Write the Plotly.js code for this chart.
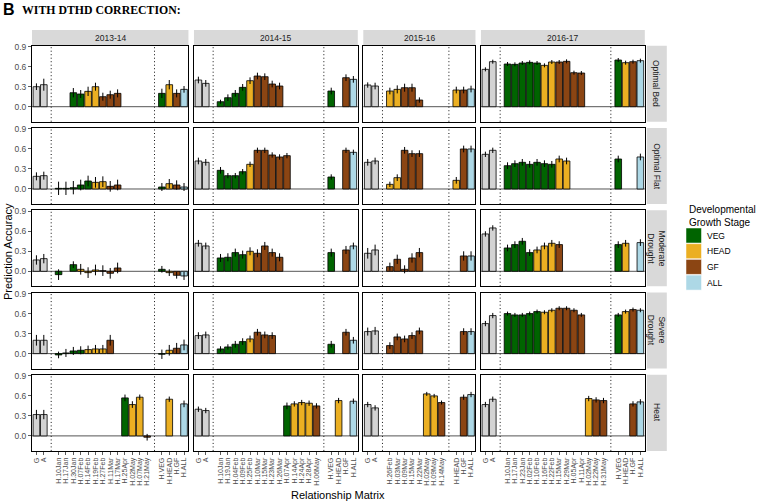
<!DOCTYPE html>
<html>
<head>
<meta charset="utf-8">
<script src="https://cdn.plot.ly/plotly-3.0.1.min.js"></script>
<style>
  body { margin: 0; background: #fff; }
  #chart { width: 757px; height: 503px; }
</style>
</head>
<body>
<div id="chart"></div>
<script>
// facets
const years = ["2013-14", "2014-15", "2015-16", "2016-17"];
const envs = ["Optimal Bed", "Optimal Flat", "Moderate<br>Drought", "Severe<br>Drought", "Heat"];

// x categories of each year column
const dates13 = ["H.10Jan", "H.17Jan", "H.30Jan", "H.07Feb", "H.14Feb", "H.19Feb", "H.27Feb", "H.11Mar", "H.17Mar", "H.25Apr", "H.02May", "H.07May", "H.21May"];
const dates14 = ["H.10Jan", "H.19Jan", "H.04Feb", "H.09Feb", "H.25Feb", "H.10Mar", "H.15Mar", "H.23Mar", "H.26Mar", "H.07Apr", "H.14Apr", "H.24Apr", "H.28Apr", "H.06May"];
const dates15 = ["H.26Feb", "H.03Mar", "H.09Mar", "H.15Mar", "H.22Mar", "H.02May", "H.09May", "H.14May"];
const dates16 = ["H.10Jan", "H.17Jan", "H.23Jan", "H.02Feb", "H.10Feb", "H.16Feb", "H.22Feb", "H.15Mar", "H.29Mar", "H.05Apr", "H.11Apr", "H.02May", "H.22May", "H.31May"];
const summ4 = ["H.VEG", "H.HEAD", "H.GF", "H.ALL"];
const summ3 = ["H.HEAD", "H.GF", "H.ALL"];

// values: G, A, dates..., summary...   (null = no bar)
// stage strings: one char per date, V=VEG H=HEAD F=GF .=none
const bed13 = [0.30, 0.33, null, null, 0.21, 0.19, 0.23, 0.30, 0.15, 0.18, 0.20, null, null, null, null, 0.20, 0.33, 0.20, 0.26];
const bed13e = [0.05, 0.09, 0, 0, 0.07, 0.06, 0.07, 0.06, 0.06, 0.06, 0.06, 0, 0, 0, 0, 0.07, 0.07, 0.06, 0.05];
const bed13s = "..VVHHFFF....";
const bed14 = [0.40, 0.35, 0.075, 0.135, 0.20, 0.29, 0.39, 0.46, 0.45, 0.34, 0.31, null, null, null, null, null, 0.235, null, 0.435, 0.41];
const bed14e = [0.05, 0.05, 0.03, 0.05, 0.05, 0.05, 0.05, 0.05, 0.05, 0.05, 0.05, 0, 0, 0, 0, 0, 0.05, 0, 0.05, 0.05];
const bed14s = "VVVVHFFFF.....";
const bed15 = [0.325, 0.31, 0.235, 0.26, 0.285, 0.285, 0.10, null, null, null, 0.25, 0.25, 0.265];
const bed15e = [0.04, 0.05, 0.05, 0.06, 0.06, 0.06, 0.04, 0, 0, 0, 0.05, 0.05, 0.05];
const bed15s = "HHFFF...";
const bed16 = [0.56, 0.675, 0.64, 0.635, 0.655, 0.665, 0.655, 0.62, 0.67, 0.67, 0.68, 0.51, 0.505, null, null, null, 0.70, 0.66, 0.675, 0.69];
const bed16e = [0.03, 0.03, 0.03, 0.03, 0.03, 0.03, 0.03, 0.03, 0.03, 0.03, 0.03, 0.03, 0.03, 0, 0, 0, 0.03, 0.03, 0.03, 0.03];
const bed16s = "VVVVVHHFFFF...";

const flat13 = [0.19, 0.20, 0.01, 0.01, 0.02, 0.06, 0.12, 0.10, 0.11, 0.04, 0.06, null, null, null, null, 0.03, 0.08, 0.06, 0.03];
const flat13e = [0.06, 0.06, 0.10, 0.10, 0.10, 0.08, 0.08, 0.08, 0.08, 0.08, 0.08, 0, 0, 0, 0, 0.06, 0.07, 0.07, 0.06];
const flat13s = "VVVVVHHFF....";
const flat14 = [0.42, 0.40, 0.28, 0.20, 0.20, 0.26, 0.37, 0.58, 0.58, 0.51, 0.48, 0.50, null, null, null, null, 0.18, null, 0.58, 0.55];
const flat14e = [0.05, 0.05, 0.05, 0.04, 0.04, 0.04, 0.04, 0.04, 0.04, 0.04, 0.04, 0.04, 0, 0, 0, 0, 0.04, 0, 0.04, 0.04];
const flat14s = "VVVVHFFFFF....";
const flat15 = [0.40, 0.42, 0.07, 0.17, 0.58, 0.53, 0.53, null, null, null, 0.13, 0.60, 0.60];
const flat15e = [0.05, 0.05, 0.04, 0.05, 0.05, 0.05, 0.05, 0, 0, 0, 0.05, 0.05, 0.05];
const flat15s = "HHFFF...";
const flat16 = [0.52, 0.58, 0.35, 0.38, 0.40, 0.37, 0.40, 0.38, 0.37, 0.45, 0.42, null, null, null, null, null, 0.45, null, null, 0.48];
const flat16e = [0.04, 0.04, 0.05, 0.05, 0.05, 0.05, 0.05, 0.05, 0.05, 0.05, 0.05, 0, 0, 0, 0, 0, 0.05, 0, 0, 0.05];
const flat16s = "VVVVVVVHH.....";

const mod13 = [0.17, 0.19, -0.05, null, 0.10, 0.03, -0.02, 0.02, 0.01, -0.03, 0.05, null, null, null, null, 0.03, -0.02, -0.06, -0.07];
const mod13e = [0.07, 0.07, 0.08, 0, 0.05, 0.08, 0.08, 0.08, 0.08, 0.08, 0.08, 0, 0, 0, 0, 0.05, 0.05, 0.05, 0.06];
const mod13s = "V.VHHHFFF....";
const mod14 = [0.42, 0.38, 0.20, 0.21, 0.28, 0.25, 0.30, 0.27, 0.38, 0.28, 0.21, null, null, null, null, null, 0.28, null, 0.32, 0.38];
const mod14e = [0.05, 0.05, 0.06, 0.06, 0.06, 0.06, 0.06, 0.06, 0.06, 0.06, 0.06, 0, 0, 0, 0, 0, 0.06, 0, 0.06, 0.05];
const mod14s = "VVVVHFFFF.....";
const mod15 = [0.27, 0.32, 0.07, 0.18, 0.03, 0.20, 0.28, null, null, null, null, 0.23, 0.23];
const mod15e = [0.08, 0.08, 0.06, 0.07, 0.06, 0.07, 0.07, 0, 0, 0, 0, 0.07, 0.07];
const mod15s = "FFFFF...";
const mod16 = [0.56, 0.65, 0.35, 0.40, 0.45, 0.28, 0.32, 0.38, 0.42, 0.40, null, null, null, null, null, null, 0.40, 0.42, null, 0.43];
const mod16e = [0.04, 0.04, 0.05, 0.05, 0.05, 0.05, 0.05, 0.05, 0.05, 0.05, 0, 0, 0, 0, 0, 0, 0.05, 0.05, 0, 0.05];
const mod16s = "VVVVHHHF......";

const sev13 = [0.20, 0.20, -0.02, 0.01, 0.04, 0.05, 0.06, 0.07, 0.07, 0.20, null, null, null, null, null, -0.01, 0.05, 0.08, 0.13];
const sev13e = [0.08, 0.08, 0.05, 0.06, 0.06, 0.06, 0.06, 0.06, 0.06, 0.08, 0, 0, 0, 0, 0, 0.07, 0.08, 0.08, 0.08];
const sev13s = "VVVVHHHF.....";
const sev14 = [0.27, 0.28, 0.07, 0.10, 0.14, 0.18, 0.22, 0.32, 0.28, 0.27, null, null, null, null, null, null, 0.14, null, 0.32, 0.20];
const sev14e = [0.05, 0.05, 0.04, 0.04, 0.05, 0.05, 0.05, 0.05, 0.05, 0.05, 0, 0, 0, 0, 0, 0, 0.05, 0, 0.05, 0.05];
const sev14s = "VVVVHFFF......";
const sev15 = [0.33, 0.34, 0.12, 0.25, 0.22, 0.27, 0.34, null, null, null, null, 0.33, 0.33];
const sev15e = [0.06, 0.06, 0.05, 0.05, 0.05, 0.05, 0.05, 0, 0, 0, 0, 0.05, 0.05];
const sev15s = "FFFFF...";
const sev16 = [0.45, 0.57, 0.60, 0.58, 0.58, 0.60, 0.63, 0.62, 0.65, 0.68, 0.68, 0.65, 0.58, null, null, null, 0.58, 0.63, 0.66, 0.65];
const sev16e = [0.04, 0.04, 0.03, 0.03, 0.03, 0.03, 0.03, 0.03, 0.03, 0.03, 0.03, 0.03, 0.03, 0, 0, 0, 0.03, 0.03, 0.03, 0.03];
const sev16s = "VVVVVHHFFFF...";

const heat13 = [0.32, 0.32, null, null, null, null, null, null, null, null, null, 0.57, 0.47, 0.58, -0.02, null, 0.55, null, 0.48];
const heat13e = [0.07, 0.07, 0, 0, 0, 0, 0, 0, 0, 0, 0, 0.05, 0.05, 0.04, 0.05, 0, 0.04, 0, 0.05];
const heat13s = ".........VHHF";
const heat14 = [0.40, 0.38, null, null, null, null, null, null, null, null, null, 0.45, 0.48, 0.50, 0.49, 0.45, null, 0.53, null, 0.52];
const heat14e = [0.04, 0.04, 0, 0, 0, 0, 0, 0, 0, 0, 0, 0.05, 0.04, 0.04, 0.04, 0.04, 0, 0.04, 0, 0.04];
const heat14s = ".........VHHHF";
const heat15 = [0.47, 0.42, null, null, null, null, null, 0.63, 0.60, 0.50, null, 0.58, 0.62];
const heat15e = [0.04, 0.04, 0, 0, 0, 0, 0, 0.03, 0.03, 0.03, 0, 0.04, 0.04];
const heat15s = ".....HHF";
const heat16 = [0.47, 0.55, null, null, null, null, null, null, null, null, null, null, null, 0.56, 0.54, 0.53, null, null, 0.48, 0.51];
const heat16e = [0.04, 0.04, 0, 0, 0, 0, 0, 0, 0, 0, 0, 0, 0, 0.04, 0.04, 0.04, 0, 0, 0.04, 0.04];
const heat16s = "...........HFF";

const colDates = [dates13, dates14, dates15, dates16];
const colSumm = [summ4, summ4, summ3, summ4];
const vals = [[bed13, bed14, bed15, bed16], [flat13, flat14, flat15, flat16], [mod13, mod14, mod15, mod16], [sev13, sev14, sev15, sev16], [heat13, heat14, heat15, heat16]];
const errs = [[bed13e, bed14e, bed15e, bed16e], [flat13e, flat14e, flat15e, flat16e], [mod13e, mod14e, mod15e, mod16e], [sev13e, sev14e, sev15e, sev16e], [heat13e, heat14e, heat15e, heat16e]];
const stages = [[bed13s, bed14s, bed15s, bed16s], [flat13s, flat14s, flat15s, flat16s], [mod13s, mod14s, mod15s, mod16s], [sev13s, sev14s, sev15s, sev16s], [heat13s, heat14s, heat15s, heat16s]];

const stageCol = { g: "#D3D3D3", V: "#006400", H: "#EBAF22", F: "#8B4513", A: "#ADD8E6" };
const summStage = { "H.VEG": "V", "H.HEAD": "H", "H.GF": "F", "H.ALL": "A" };
const legendKeys = [["V", "VEG"], ["H", "HEAD"], ["F", "GF"], ["A", "ALL"]];

// geometry (px)
const W = 757, H = 503;
const FONT = "Liberation Sans, Arial, sans-serif";
const unit = 7.38, gapX = 5.5, left0 = 32;
const yMin = -0.225, yMax = 0.915;
const zero0 = 106.7, rowStep = 82.3, pxPerVal = 66.7;
const fx = v => v / W, fy = v => 1 - v / H;

// paper-anchored text helper (explicit anchors, 'auto' shifts them)
function label(text, xpx, ypx, opts) {
    return Object.assign({ xref: "paper", yref: "paper", x: fx(xpx), y: fy(ypx), text: text,
        showarrow: false, xanchor: "center", yanchor: "middle" }, opts);
}

function draw() {
    var traces = [];
    var layout = {
        width: W, height: H,
        margin: { l: 0, r: 0, t: 0, b: 0 },
        paper_bgcolor: "#fff", plot_bgcolor: "#fff",
        showlegend: false,
        font: { family: FONT, color: "#4D4D4D" },
        shapes: [], annotations: []
    };

    // column extents
    var colLeft = [], colW = [], colN = [];
    var cx = left0;
    for (var c = 0; c < 4; c++) {
        var n = 2 + 1 + colDates[c].length + 1 + colSumm[c].length;
        colN.push(n);
        colLeft.push(cx);
        colW.push((n + 0.2) * unit);
        cx += (n + 0.2) * unit + gapX;
    }
    var rightEdge = colLeft[3] + colW[3];

    for (var r = 0; r < 5; r++) {
        var zeroPx = zero0 + rowStep * r;
        var pTop = zeroPx - yMax * pxPerVal, pBot = zeroPx - yMin * pxPerVal;
        for (var c = 0; c < 4; c++) {
            var k = r * 4 + c + 1;
            var id = k === 1 ? "" : String(k);
            var cats = ["G", "A", null].concat(colDates[c], [null], colSumm[c]);
            var labels = [], pos = [], blanks = [];
            cats.forEach((m, i) => { if (m === null) blanks.push(i + 1); else { labels.push(m); pos.push(i + 1); } });

            var v = vals[r][c], e = errs[r][c], s = stages[r][c];
            var nd = colDates[c].length;
            if (v.length !== labels.length || s.length !== nd) console.log("length mismatch", r, c);
            var bx = [], by = [], be = [], bc = [];
            for (var i = 0; i < labels.length; i++) {
                if (v[i] === null || v[i] === undefined) continue;
                var st = i < 2 ? "g" : (i < 2 + nd ? s[i - 2] : summStage[labels[i]]);
                bx.push(pos[i]); by.push(v[i]); be.push(e[i]); bc.push(stageCol[st]);
            }
            traces.push({
                type: "bar", x: bx, y: by, width: 0.9,
                xaxis: "x" + id, yaxis: "y" + id,
                marker: { color: bc, line: { color: "#000", width: 0.8 } },
                error_y: { type: "data", array: be, visible: true, color: "#000", thickness: 1, width: 0 },
                hoverinfo: "skip"
            });

            layout["xaxis" + id] = {
                domain: [fx(colLeft[c]), fx(colLeft[c] + colW[c])],
                range: [0.4, colN[c] + 0.6], anchor: "y" + id,
                showgrid: false, zeroline: false,
                showline: true, mirror: true, linecolor: "#000", linewidth: 1,
                tickmode: "array", tickvals: pos, ticktext: labels,
                ticks: r === 4 ? "outside" : "", ticklen: 3, tickcolor: "#333", tickwidth: 0.8,
                showticklabels: r === 4, tickangle: -90,
                tickfont: { family: FONT, size: 7, color: "#4D4D4D" }
            };
            layout["yaxis" + id] = {
                domain: [fy(pBot), fy(pTop)],
                range: [yMin, yMax], anchor: "x" + id,
                showgrid: false, zeroline: false,
                showline: true, mirror: true, linecolor: "#000", linewidth: 1,
                tickmode: "array", tickvals: [0, 0.3, 0.6, 0.9], ticktext: ["0.0", "0.3", "0.6", "0.9"],
                ticks: c === 0 ? "outside" : "", ticklen: 3, tickcolor: "#333", tickwidth: 0.8,
                showticklabels: c === 0,
                tickfont: { family: FONT, size: 8.5, color: "#4D4D4D" }
            };

            // zero line and dotted separators
            layout.shapes.push({ type: "line", xref: "x" + id + " domain", x0: 0, x1: 1, yref: "y" + id, y0: 0, y1: 0,
                line: { color: "#555", width: 1 }, layer: "below" });
            blanks.forEach(b => {
                layout.shapes.push({ type: "line", xref: "x" + id, x0: b, x1: b, yref: "y" + id + " domain", y0: 0, y1: 1,
                    line: { color: "#111", width: 1, dash: "1px,2.5px" }, layer: "below" });
            });
        }
        // row strip
        layout.shapes.push({ type: "rect", xref: "paper", yref: "paper", x0: fx(rightEdge + 2), x1: fx(rightEdge + 22),
            y0: fy(pBot), y1: fy(pTop), fillcolor: "#D9D9D9", line: { width: 0 } });
        layout.annotations.push(label(envs[r], rightEdge + 12, (pTop + pBot) / 2,
            { textangle: 90, font: { family: FONT, size: 8.5, color: "#1A1A1A" } }));
    }

    // column strips
    years.forEach((yr, c) => {
        layout.shapes.push({ type: "rect", xref: "paper", yref: "paper", x0: fx(colLeft[c]), x1: fx(colLeft[c] + colW[c]),
            y0: fy(45), y1: fy(30), fillcolor: "#D9D9D9", line: { width: 0 } });
        layout.annotations.push(label(yr, colLeft[c] + colW[c] / 2, 37.5,
            { font: { family: FONT, size: 8.5, color: "#1A1A1A" } }));
    });

    // titles
    layout.annotations.push(label("<b>B</b>", 1, 9, { xanchor: "left", font: { family: FONT, size: 16, color: "#000" } }));
    layout.annotations.push(label("<b>WITH DTHD CORRECTION:</b>", 20, 10,
        { xanchor: "left", font: { family: "Liberation Serif, Times New Roman, serif", size: 11.8, color: "#000" } }));
    layout.annotations.push(label("Prediction Accuracy", 8, 252,
        { textangle: -90, font: { family: FONT, size: 11, color: "#000" } }));
    layout.annotations.push(label("Relationship Matrix", (left0 + rightEdge) / 2, 495,
        { font: { family: FONT, size: 11, color: "#000" } }));

    // legend
    layout.annotations.push(label("Developmental<br>Growth Stage", 687, 216,
        { xanchor: "left", align: "left", font: { family: FONT, size: 10, color: "#000" } }));
    legendKeys.forEach((kv, i) => {
        var y0 = 228 + i * 15.7;
        layout.shapes.push({ type: "rect", xref: "paper", yref: "paper", x0: fx(686), x1: fx(701.5), y0: fy(y0 + 15), y1: fy(y0),
            fillcolor: stageCol[kv[0]], line: { color: "#fff", width: 0.5 } });
        layout.annotations.push(label(kv[1], 705, y0 + 7.5,
            { xanchor: "left", font: { family: FONT, size: 8.5, color: "#000" } }));
    });

    Plotly.newPlot("chart", traces, layout, { displayModeBar: false, staticPlot: true });
}

draw();
</script>
</body>
</html>
